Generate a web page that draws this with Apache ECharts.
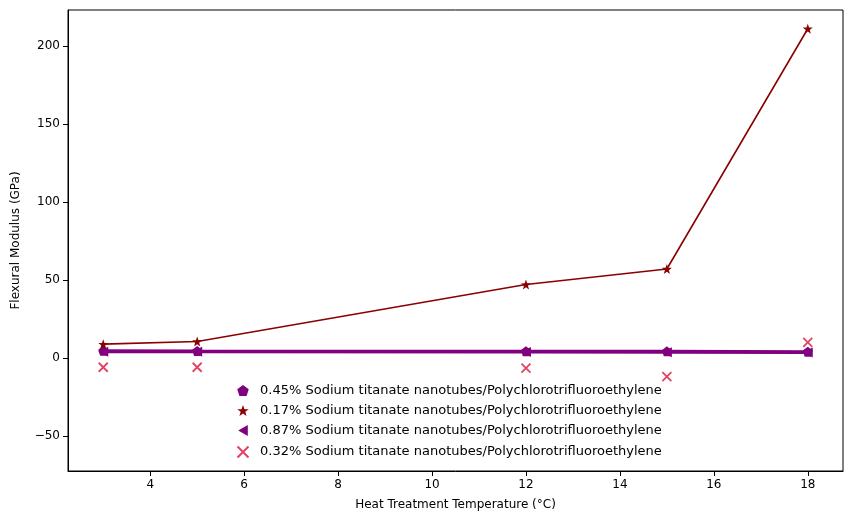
<!DOCTYPE html>
<html>
<head>
<meta charset="utf-8">
<script src="https://cdn.jsdelivr.net/npm/echarts@6/dist/echarts.min.js"></script>
<style>html,body{margin:0;padding:0;background:#fff;}#main{width:853px;height:525px;}</style>
</head>
<body>
<div id="main"></div>
<script>
const temps = [3, 5, 12, 15, 18];
const names = [
    '0.45% Sodium titanate nanotubes/Polychlorotrifluoroethylene',
    '0.17% Sodium titanate nanotubes/Polychlorotrifluoroethylene',
    '0.87% Sodium titanate nanotubes/Polychlorotrifluoroethylene',
    '0.32% Sodium titanate nanotubes/Polychlorotrifluoroethylene'
];
const s045 = [4.5, 4.4, 4.3, 4.2, 4.0];
const s017 = [8.8, 10.5, 47, 57, 211];
const s087 = [4.0, 4.0, 3.8, 3.6, 3.5];
const s032 = [-6, -6, -6.5, -12, 10];
const xTicks = [4, 6, 8, 10, 12, 14, 16, 18];
const yTicks = [-50, 0, 50, 100, 150, 200];

const pentagon = 'path://M0,-10 L9.5,-3.1 L5.9,8.1 L-5.9,8.1 L-9.5,-3.1 Z';
const star = 'path://M0,-10 L2.4,-3.2 L9.5,-3.1 L3.8,1.2 L5.9,8.1 L0,4 L-5.9,8.1 L-3.8,1.2 L-9.5,-3.1 L-2.4,-3.2 Z';
const tri = 'path://M-8,0 L6,-8 L6,8 Z';
const cross = 'path://M-8,-8 L8,8 M8,-8 L-8,8';
const font = 'DejaVu Sans';

function pts(arr) {
    return temps.map((t, i) => [t, arr[i]]);
}

const chart = echarts.init(document.getElementById('main'));
const option = {
    animation: false,
    textStyle: { fontFamily: font },
    grid: { left: 68, right: 10, top: 10, bottom: 54, show: true, borderColor: '#000', borderWidth: 1 },
    xAxis: {
        type: 'value', min: 2.25, max: 18.75,
        name: 'Heat Treatment Temperature (°C)', nameLocation: 'middle', nameGap: 28,
        nameTextStyle: { color: '#000', fontSize: 12, fontFamily: font },
        axisLine: { onZero: false, lineStyle: { color: '#000' } },
        axisTick: { show: true, customValues: xTicks, lineStyle: { color: '#000' } },
        axisLabel: { color: '#000', fontSize: 12, fontFamily: font, customValues: xTicks },
        splitLine: { show: false }
    },
    yAxis: {
        type: 'value', min: -72.5, max: 223,
        name: 'Flexural Modulus (GPa)', nameLocation: 'middle', nameGap: 46,
        nameTextStyle: { color: '#000', fontSize: 12, fontFamily: font },
        axisLine: { show: true, onZero: false, lineStyle: { color: '#000' } },
        axisTick: { show: true, customValues: yTicks, lineStyle: { color: '#000' } },
        axisLabel: { color: '#000', fontSize: 12, fontFamily: font, customValues: yTicks,
            formatter: v => String(v).replace('-', '\u2212') },
        splitLine: { show: false }
    },
    legend: {
        orient: 'vertical', left: 230, top: 379, itemGap: 7, itemWidth: 12, itemHeight: 11,
        textStyle: { color: '#000', fontSize: 13, fontFamily: font, padding: [0, 0, 0, 6] },
        data: [
            { name: names[0], icon: pentagon },
            { name: names[1], icon: star },
            { name: names[2], icon: tri },
            { name: names[3], icon: cross }
        ]
    },
    series: [
        { name: names[0], type: 'line', data: pts(s045), symbol: pentagon, symbolSize: 10,
          itemStyle: { color: '#800080' }, lineStyle: { color: '#800080', width: 3 } },
        { name: names[1], type: 'line', data: pts(s017), symbol: star, symbolSize: 10,
          itemStyle: { color: '#8b0000' }, lineStyle: { color: '#8b0000', width: 1.6 } },
        { name: names[2], type: 'line', data: pts(s087), symbol: tri, symbolSize: 10,
          itemStyle: { color: '#800080' }, lineStyle: { color: '#800080', width: 3 } },
        { name: names[3], type: 'scatter', data: pts(s032), symbol: cross, symbolSize: 9,
          itemStyle: { color: 'none', borderColor: '#dc143c', borderWidth: 1.8 } }
    ]
};
chart.setOption(option);
</script>
</body>
</html>
